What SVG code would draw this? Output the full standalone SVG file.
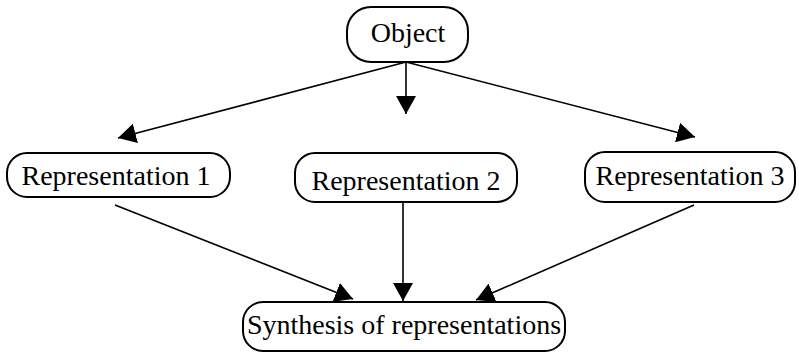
<svg xmlns="http://www.w3.org/2000/svg" width="799" height="354" viewBox="0 0 799 354">
<style>
.box{fill:#fff;stroke:#000;stroke-width:2}
.lbl{font-family:"Liberation Serif","Times New Roman",serif;font-size:28px;fill:#000;text-anchor:middle}
.edge{stroke:#000;stroke-width:1.6;fill:none;marker-end:url(#ah)}
</style>
<defs>
<marker id="ah" markerUnits="userSpaceOnUse" markerWidth="20" markerHeight="20" refX="18" refY="10" orient="auto">
<path d="M0,0 L18,10 L0,20 Z" fill="#000"/>
</marker>
</defs>
<rect width="799" height="354" fill="#fff"/>
<g id="edges">
<line class="edge" x1="406" y1="62" x2="118" y2="138"/>
<line class="edge" x1="406" y1="62" x2="406" y2="114"/>
<line class="edge" x1="406" y1="62" x2="695" y2="137"/>
<line class="edge" x1="115" y1="205" x2="353" y2="299"/>
<line class="edge" x1="403" y1="203" x2="403" y2="301"/>
<line class="edge" x1="694" y1="205" x2="476" y2="300"/>
</g>
<g id="object">
<rect class="box" x="347" y="7" width="121" height="55" rx="24"/>
<text class="lbl" x="408" y="42">Object</text>
</g>
<g id="rep1">
<rect class="box" x="7" y="153" width="223" height="44" rx="20"/>
<text class="lbl" x="116" y="185">Representation 1</text>
</g>
<g id="rep2">
<rect class="box" x="295" y="153" width="222" height="49" rx="20"/>
<text class="lbl" x="406" y="190">Representation 2</text>
</g>
<g id="rep3">
<rect class="box" x="585" y="152" width="210" height="50" rx="20"/>
<text class="lbl" x="690" y="185">Representation 3</text>
</g>
<g id="synth">
<rect class="box" x="243" y="302" width="322" height="49" rx="20"/>
<text class="lbl" x="404" y="334">Synthesis of representations</text>
</g>
</svg>
